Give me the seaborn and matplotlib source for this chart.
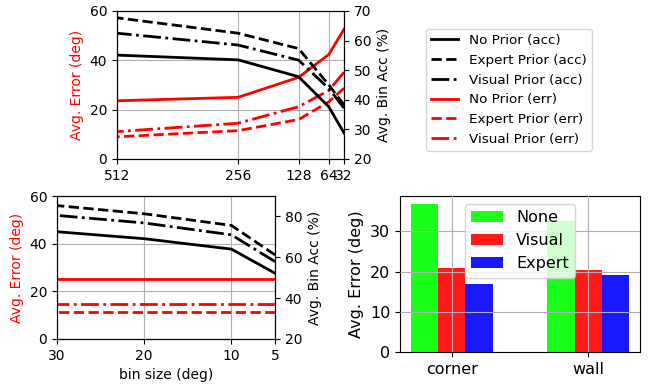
import pandas as pd
import matplotlib
matplotlib.use("Agg")
import matplotlib.pyplot as plt
import seaborn as sns

# top panel: resolution sweep
resolution = [512, 256, 128, 64, 32]
acc_no_prior = [55.1, 53.5, 47.8, 37.6, 28.8]
acc_expert = [67.7, 62.5, 57.3, 45.0, 38.3]
acc_visual = [62.5, 58.5, 53.4, 43.8, 37.2]
err_no_prior = [23.6, 25.0, 33.1, 42.4, 52.6]
err_expert = [9.0, 11.5, 16.0, 23.2, 28.7]
err_visual = [11.1, 14.5, 21.2, 27.8, 35.2]

# bottom-left panel: bin size sweep
bin_size = [30, 20, 10, 5]
bacc_no_prior = [72.5, 69.1, 64.0, 52.2]
bacc_expert = [85.3, 81.3, 75.6, 61.2]
bacc_visual = [80.5, 76.8, 71.0, 57.9]
berr_no_prior = [25.0, 25.0, 25.0, 25.0]
berr_expert = [11.5, 11.5, 11.5, 11.5]
berr_visual = [14.6, 14.6, 14.6, 14.6]

# bottom-right panel: error by location and prior
locations = ["corner", "wall"]
priors = ["None", "Visual", "Expert"]
err_none = [36.8, 32.7]
err_vis = [20.9, 20.4]
err_exp = [16.9, 19.2]

fig = plt.figure(figsize=(6.57, 3.84), dpi=100)
plt.rcParams["font.size"] = 10

ax1 = fig.add_axes([117 / 657, 1 - 159 / 384, 227 / 657, 148 / 384])
ax1b = ax1.twinx()
ax3 = fig.add_axes([57 / 657, 1 - 339 / 384, 218 / 657, 143 / 384])
ax3b = ax3.twinx()
ax4 = fig.add_axes([400 / 657, 1 - 352 / 384, 240 / 657, 156 / 384])


def draw_panel(ax, axb, x, accs, errs):
    styles = ["-", "--", "-."]
    names = ["No Prior", "Expert Prior", "Visual Prior"]
    handles = []
    for vals, ls, nm in zip(accs, styles, names):
        sns.lineplot(x=x, y=vals, ax=axb, color="black", linestyle=ls, lw=2,
                     label=nm + " (acc)", legend=False)
        handles.append(axb.lines[-1])
    for vals, ls, nm in zip(errs, styles, names):
        sns.lineplot(x=x, y=vals, ax=ax, color="red", linestyle=ls, lw=2,
                     label=nm + " (err)", legend=False)
        handles.append(ax.lines[-1])
    for a in (ax, axb):
        if a.get_legend() is not None:
            a.get_legend().remove()
    ax.set_xlim(x[0], x[-1])
    ax.set_xticks(x)
    ax.set_ylim(0, 60)
    ax.set_yticks([0, 20, 40, 60])
    ax.set_ylabel("Avg. Error (deg)", color="red")
    axb.set_ylabel("Avg. Bin Acc (%)")
    ax.grid(True)
    return handles


handles = draw_panel(ax1, ax1b, resolution,
                     [acc_no_prior, acc_expert, acc_visual],
                     [err_no_prior, err_expert, err_visual])
ax1b.set_ylim(20, 70)
ax1b.set_yticks([20, 30, 40, 50, 60, 70])
ax1.set_xlim(512, 32)

draw_panel(ax3, ax3b, bin_size,
           [bacc_no_prior, bacc_expert, bacc_visual],
           [berr_no_prior, berr_expert, berr_visual])
ax3b.set_ylim(20, 90)
ax3b.set_yticks([20, 40, 60, 80])
ax3.set_xlim(30, 5)
ax3.set_xlabel("bin size (deg)")

fig.legend(handles=handles, loc="upper left",
           bbox_to_anchor=(419 / 657, 1 - 22 / 384), fontsize=9.7)

df = pd.DataFrame({
    "location": locations * 3,
    "prior": [p for p in priors for _ in locations],
    "err": err_none + err_vis + err_exp,
})
sns.barplot(data=df, x="location", y="err", hue="prior", ax=ax4,
            palette=["lime", "red", "blue"], saturation=1, alpha=0.9,
            width=0.6, errorbar=None)
ax4.set_xlim(-0.38, 1.38)
ax4.set_ylim(0, 38.8)
ax4.set_yticks([0, 10, 20, 30])
ax4.set_xlabel("")
ax4.set_ylabel("Avg. Error (deg)", fontsize=11.5)
ax4.tick_params(labelsize=11.5)
ax4.grid(True)
ax4.set_axisbelow(False)
h, l = ax4.get_legend_handles_labels()
ax4.legend(h, l, loc="upper center", fontsize=11.5)

fig.savefig("out.png", dpi=100)
